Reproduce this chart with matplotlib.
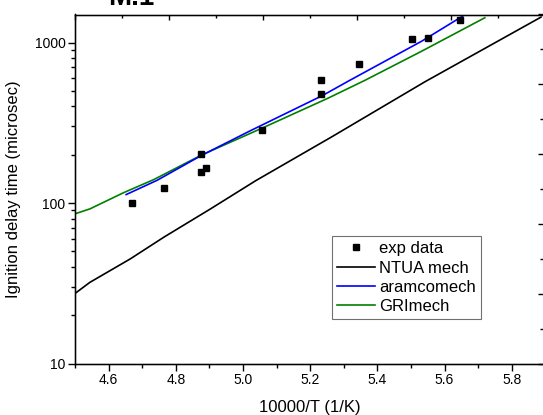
import matplotlib
matplotlib.use("Agg")
import matplotlib.pyplot as plt
from matplotlib.ticker import MultipleLocator, LogLocator, NullFormatter, FixedLocator

plt.rcParams['font.family'] = ['Liberation Sans', 'DejaVu Sans']

# experimental data
exp_x = [4.669, 4.765, 4.876, 4.876, 4.891, 5.057, 5.233, 5.233, 5.345, 5.504, 5.552, 5.647]
exp_y = [100, 124.5, 201, 155.5, 166, 287, 585, 481, 732, 1044, 1074, 1384]

# NTUA mech
ntua_x = [4.5, 4.544, 4.664, 4.764, 4.903, 5.038, 5.262, 5.542, 5.887]
ntua_y = [27.4, 32.1, 44.9, 61.3, 92, 138, 257, 570, 1438]

# aramcomech
aramco_x = [4.652, 4.744, 4.876, 5.023, 5.237, 5.317, 5.532, 5.657]
aramco_y = [113, 138.6, 198, 283, 468, 580, 1019, 1473]

# GRImech
gri_x = [4.5, 4.544, 4.644, 4.734, 4.876, 5.06, 5.253, 5.362, 5.532, 5.72]
gri_y = [85.8, 92, 116, 140, 199, 295, 450, 580, 883, 1426]

x_ticks = [4.6, 4.8, 5.0, 5.2, 5.4, 5.6, 5.8]
x_tick_labels = ["4.6", "4.8", "5.0", "5.2", "5.4", "5.6", "5.8"]
y_ticks = [10, 100, 1000]
y_tick_labels = ["10", "100", "1000"]

W, H = 543, 415
fig = plt.figure(figsize=(W / 100, H / 100), dpi=100)
ax = fig.add_axes([75.1 / W, (H - 363.7) / H, (545.3 - 75.1) / W, (363.7 - 14.5) / H])

ax.plot(ntua_x, ntua_y, color='black', lw=1.2, label='NTUA mech', zorder=2)
ax.plot(aramco_x, aramco_y, color='#0000ff', lw=1.2, label='aramcomech', zorder=3)
ax.plot(gri_x, gri_y, color='#008000', lw=1.2, label='GRImech', zorder=2)
ax.plot(exp_x, exp_y, ls='none', marker='s', ms=5, color='black', label='exp data', zorder=4)

ax.set_yscale('log')
ax.set_xlim(4.5, 5.9)
ax.set_ylim(10, 1494)
ax.set_xticks(x_ticks)
ax.set_xticklabels(x_tick_labels)
ax.xaxis.set_minor_locator(MultipleLocator(0.1))
ax.set_yticks(y_ticks)
ax.set_yticklabels(y_tick_labels)
ax.yaxis.set_minor_locator(LogLocator(base=10, subs=range(2, 10)))
ax.yaxis.set_minor_formatter(NullFormatter())
ax.tick_params(which='major', direction='out', length=5, width=1, labelsize=10, pad=2)
ax.tick_params(which='minor', direction='out', length=3, width=1)
ax.tick_params(top=False, right=False)
for s in ax.spines.values():
    s.set_linewidth(1.0)

ax.set_xlabel('10000/T (1/K)', fontsize=12, labelpad=9)
ax.set_ylabel('Ignition delay time (microsec)', fontsize=12, labelpad=10)

# secondary tick axes (top and right, no labels)
axr = ax.twinx()
axr.set_ylim(0, 10)
axr.yaxis.set_major_locator(FixedLocator([0, 2, 4, 6, 8, 10]))
axr.yaxis.set_minor_locator(FixedLocator([1, 3, 5, 7, 9]))
axr.tick_params(axis='y', which='major', direction='in', length=5, width=1, labelright=False)
axr.tick_params(axis='y', which='minor', direction='in', length=3.3, width=1)

axt = ax.twiny()
axt.set_xlim(0, 10)
axt.xaxis.set_major_locator(FixedLocator([0, 2, 4, 6, 8, 10]))
axt.xaxis.set_minor_locator(FixedLocator([1, 3, 5, 7, 9]))
axt.tick_params(axis='x', which='major', direction='in', length=3.3, width=1, labeltop=False)
axt.tick_params(axis='x', which='minor', direction='in', length=2, width=1)

leg = ax.legend(handles=[ax.lines[3], ax.lines[0], ax.lines[1], ax.lines[2]],
                loc='upper left', bbox_to_anchor=(0.5457, 0.365), fontsize=12,
                frameon=True, fancybox=False, edgecolor='#707070', framealpha=1,
                handlelength=2.3, handletextpad=0.25, labelspacing=0.26,
                borderpad=0.3, borderaxespad=0, numpoints=1)
leg.get_frame().set_linewidth(0.8)
leg.set_zorder(10)

fig.text(108 / W, 1 - 5 / H, 'M.1', fontsize=20, fontweight='bold', ha='left', va='baseline')

fig.savefig('out.png', dpi=100)
